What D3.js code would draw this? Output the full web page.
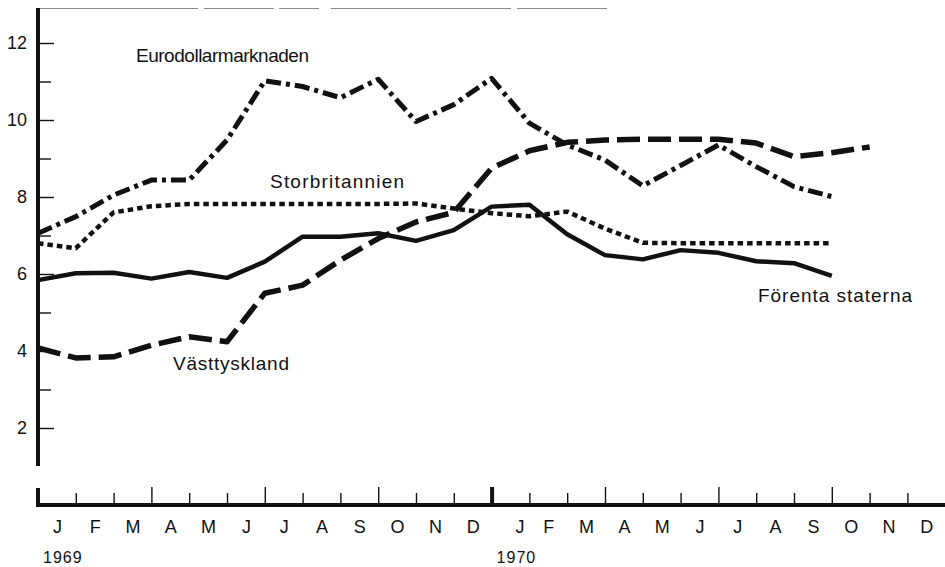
<!DOCTYPE html>
<html>
<head>
<meta charset="utf-8">
<script src="https://cdn.jsdelivr.net/npm/d3@7"></script>
<style>
  body { margin: 0; background: #fff; }
  text { font-family: "Liberation Sans", Arial, sans-serif; fill: #111; }
</style>
</head>
<body>
<script>
// Chart size
let width = 945;
let height = 567;

// Data: one value per month boundary, Jan 1969 ... Nov 1970
let months = ["J", "F", "M", "A", "M", "J", "J", "A", "S", "O", "N", "D"];
let monthLabels = months.concat(months);
let yearLabels = ["1969", "1970"];
let yMajor = [2, 4, 6, 8, 10, 12];
let yMinor = [3, 5, 7, 9, 11];

let eurodollar = [7.06, 7.49, 8.05, 8.44, 8.44, 9.48, 11.02, 10.87, 10.58, 11.06, 9.96, 10.4,
  11.08, 9.92, 9.35, 8.96, 8.29, 8.82, 9.35, 8.79, 8.27, 8.01];
let storbritannien = [6.8, 6.67, 7.6, 7.76, 7.82, 7.82, 7.82, 7.82, 7.82, 7.82, 7.83, 7.7,
  7.58, 7.5, 7.62, 7.18, 6.81, 6.8, 6.8, 6.8, 6.8, 6.8];
let forenta = [5.84, 6.02, 6.03, 5.88, 6.05, 5.9, 6.32, 6.97, 6.97, 7.06, 6.86, 7.14,
  7.75, 7.8, 7.03, 6.49, 6.38, 6.62, 6.55, 6.33, 6.28, 5.95];
let vasttyskland = [4.08, 3.82, 3.85, 4.15, 4.37, 4.24, 5.5, 5.71, 6.36, 6.92, 7.35, 7.6,
  8.75, 9.2, 9.42, 9.48, 9.5, 9.5, 9.5, 9.4, 9.05, 9.15, 9.3];

let svg = d3.select("body")
  .append("svg")
  .attr("width", width)
  .attr("height", height);

// Scales
let x = d3.scaleLinear().domain([0, 24]).range([38, 945.2]);
let y = d3.scaleLinear().domain([0, 12]).range([505, 43]);

// faint frame line along the top
svg.append("line")
  .attr("x1", 38).attr("x2", 640)
  .attr("y1", 8.5).attr("y2", 8.5)
  .attr("stroke", "#888")
  .attr("stroke-width", 1)
  .attr("stroke-dasharray", "160 6 70 5 40 12 180 6 90");

// Y axis line (broken near the bottom)
svg.append("line")
  .attr("x1", 38).attr("x2", 38)
  .attr("y1", 8).attr("y2", 466)
  .attr("stroke", "#111").attr("stroke-width", 4);
svg.append("line")
  .attr("x1", 38).attr("x2", 38)
  .attr("y1", 488).attr("y2", 507)
  .attr("stroke", "#111").attr("stroke-width", 4);

// Y ticks
let yMajorAxis = svg.append("g")
  .attr("transform", "translate(39,0)")
  .call(d3.axisRight(y).tickValues(yMajor).tickSize(15).tickFormat(""));
let yMinorAxis = svg.append("g")
  .attr("transform", "translate(39,0)")
  .call(d3.axisRight(y).tickValues(yMinor).tickSize(12).tickFormat(""));
let yLabelAxis = svg.append("g")
  .attr("transform", "translate(36,0)")
  .call(d3.axisLeft(y).tickValues(yMajor).tickSize(0).tickPadding(9));
[yMajorAxis, yMinorAxis, yLabelAxis].forEach(g => {
  g.select(".domain").remove();
  g.selectAll("line").attr("stroke", "#111").attr("stroke-width", 1.4);
});
yLabelAxis.selectAll("text")
  .style("font-size", "18px")
  .style("font-family", "Liberation Sans, Arial, sans-serif")
  .attr("fill", "#111");

// X axis line
svg.append("line")
  .attr("x1", 36).attr("x2", 945)
  .attr("y1", 505).attr("y2", 505)
  .attr("stroke", "#111").attr("stroke-width", 4);

// X ticks at month boundaries: quarter ticks taller, year tick thick
let boundaries = d3.range(1, 24);
let quarter = [3, 6, 9, 15, 18, 21];
let xTicks = svg.append("g")
  .attr("transform", "translate(0,504)")
  .call(d3.axisTop(x)
    .tickValues(boundaries.filter(k => k !== 12 && quarter.indexOf(k) < 0))
    .tickSize(11).tickFormat(""));
let xQuarter = svg.append("g")
  .attr("transform", "translate(0,504)")
  .call(d3.axisTop(x).tickValues(quarter).tickSize(17).tickFormat(""));
let xYear = svg.append("g")
  .attr("transform", "translate(0,505)")
  .call(d3.axisTop(x).tickValues([12]).tickSize(18).tickFormat(""));
[xTicks, xQuarter, xYear].forEach(g => {
  g.select(".domain").remove();
  g.selectAll("line").attr("stroke", "#111").attr("stroke-width", 1.4);
});
xYear.selectAll("line").attr("stroke-width", 4);

// Month labels centred in each month
let xLabels = svg.append("g")
  .attr("transform", "translate(0,505)")
  .call(d3.axisBottom(x)
    .tickValues(d3.range(24).map(i => i + 0.5))
    .tickSize(0).tickPadding(15)
    .tickFormat((d, i) => monthLabels[i]));
xLabels.select(".domain").remove();
xLabels.selectAll("text")
  .style("font-size", "18px")
  .style("font-family", "Liberation Sans, Arial, sans-serif")
  .attr("fill", "#111")
  .attr("dx", (d, i) => i === 12 ? 9 : 0);

// Year labels
svg.selectAll(".year")
  .data(yearLabels)
  .enter().append("text")
  .attr("class", "year")
  .attr("x", (d, i) => x(i * 12) + 5)
  .attr("y", 563)
  .style("font-size", "16px")
  .style("letter-spacing", "1px")
  .text(d => d);

// Lines
let line = d3.line()
  .x((d, i) => x(i))
  .y(d => y(d));

let series = [
  { values: vasttyskland, width: 5.5, dash: "23 8" },
  { values: forenta, width: 4.5, dash: null },
  { values: storbritannien, width: 4.5, dash: "5.5 4" },
  { values: eurodollar, width: 5, dash: "15 5 4 5" }
];

svg.selectAll(".series")
  .data(series)
  .enter().append("path")
  .attr("class", "series")
  .attr("d", d => line(d.values))
  .attr("fill", "none")
  .attr("stroke", "#111")
  .attr("stroke-width", d => d.width)
  .attr("stroke-linejoin", "round")
  .attr("stroke-dasharray", d => d.dash);

// Series labels
let labels = [
  { text: "Eurodollarmarknaden", x: 136, y: 62, len: 173 },
  { text: "Storbritannien", x: 270, y: 188, len: 134 },
  { text: "Västtyskland", x: 173, y: 370, len: 116 },
  { text: "Förenta staterna", x: 758, y: 302, len: 154 }
];
svg.selectAll(".label")
  .data(labels)
  .enter().append("text")
  .attr("class", "label")
  .attr("x", d => d.x)
  .attr("y", d => d.y)
  .attr("textLength", d => d.len)
  .attr("lengthAdjust", "spacing")
  .style("font-size", "19px")
  .text(d => d.text);
</script>
</body>
</html>
